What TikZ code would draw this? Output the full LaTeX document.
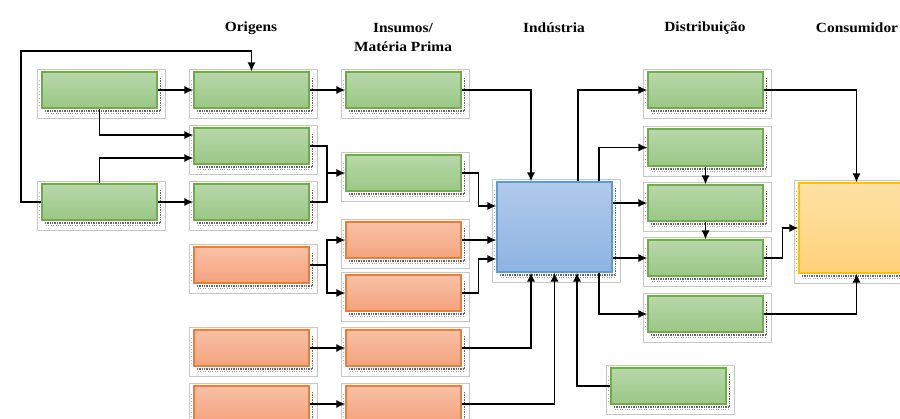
\documentclass[tikz,border=0pt]{standalone}
\usepackage{fontspec}
\setmainfont{Liberation Serif}
\usetikzlibrary{arrows.meta,fit}

% fill and edge colours of the stages
\definecolor{gTop}{RGB}{184,216,170}
\definecolor{gBot}{RGB}{154,199,134}
\definecolor{gEdge}{RGB}{112,173,71}
\definecolor{oTop}{RGB}{248,193,166}
\definecolor{oBot}{RGB}{243,163,126}
\definecolor{oEdge}{RGB}{237,125,49}
\definecolor{bTop}{RGB}{176,202,235}
\definecolor{bBot}{RGB}{142,179,226}
\definecolor{bEdge}{RGB}{91,155,213}
\definecolor{yTop}{RGB}{255,225,165}
\definecolor{yBot}{RGB}{255,210,122}
\definecolor{yEdge}{RGB}{255,192,0}

\tikzset{
  frame/.style={draw=black!22, line width=0.9pt},
  grn/.style={draw=gEdge, line width=1.1pt, top color=gTop, bottom color=gBot},
  org/.style={draw=oEdge, line width=1.1pt, top color=oTop, bottom color=oBot},
  blu/.style={draw=bEdge, line width=1.1pt, top color=bTop, bottom color=bBot},
  ylw/.style={draw=yEdge, line width=1.1pt, top color=yTop, bottom color=yBot},
  speck/.style={draw=black!60, line width=1.6pt, dash pattern=on 0.7pt off 1pt},
  conn/.style={line width=1.5pt, draw=black},
  arr/.style={conn, -{Latex[length=9pt,width=8pt]}},
  head/.style={font=\bfseries\fontsize{14}{19}\selectfont, xscale=1.1, align=center},
}

% a stage box: name, style, left, top, right, bottom
\newcommand\mkpanel[6]{%
  \draw[frame] (#3-5,#4-3) rectangle (#5+8,#6+10);
  \draw[speck] (#3+3,#6+3) -- (#5+3,#6+3);
  \draw[speck, line width=1pt, draw=black!35, dash pattern=on 0.6pt off 1.8pt] (#3+4,#6+6) -- (#5+2,#6+6);
  \draw[speck, line width=0.9pt] (#5+3,#4+6) -- (#5+3,#6+3);
  \draw[speck, line width=0.7pt, draw=black!30, dash pattern=on 0.6pt off 3pt] (#3-3,#4+8) -- (#3-3,#6);
  \node[#2, fit={(#3,#4) (#5,#6)}, inner sep=0pt] (#1) {};
}

\begin{document}
\begin{tikzpicture}[x=1pt, y=-1pt]
  \useasboundingbox (0,0) rectangle (900,419);
  \clip (0,0) rectangle (900,419);

  % column headings
  \node[head] (hOrig) at (251,28) {Origens};
  \node[head] (hIns)  at (403,37.5) {Insumos/\\Matéria Prima};
  \node[head] (hInd)  at (554,28) {Indústria};
  \node[head] (hDist) at (705,28) {Distribuição};
  \node[head] (hCons) at (857,28) {Consumidor};

  % sources
  \mkpanel{A1}{grn}{42}{72}{157}{108}
  \mkpanel{A2}{grn}{42}{184}{157}{220}

  % origins
  \mkpanel{B1}{grn}{194}{72}{309}{108}
  \mkpanel{B2}{grn}{194}{128}{309}{164}
  \mkpanel{B3}{grn}{194}{184}{309}{220}
  \mkpanel{B4}{org}{194}{247}{309}{283}
  \mkpanel{B5}{org}{194}{330}{309}{366}
  \mkpanel{B6}{org}{194}{386}{309}{422}

  % inputs / raw material
  \mkpanel{C1}{grn}{346}{72}{461}{108}
  \mkpanel{C2}{grn}{346}{155}{461}{191}
  \mkpanel{C3}{org}{346}{222}{461}{258}
  \mkpanel{C4}{org}{346}{275}{461}{311}
  \mkpanel{C5}{org}{346}{330}{461}{366}
  \mkpanel{C6}{org}{346}{386}{461}{422}

  % industry
  \mkpanel{D}{blu}{497}{182}{612}{272}
  \mkpanel{F}{grn}{611}{368}{726}{404}

  % distribution
  \mkpanel{E1}{grn}{648}{72}{763}{108}
  \mkpanel{E2}{grn}{648}{129}{763}{166}
  \mkpanel{E3}{grn}{648}{185}{763}{221}
  \mkpanel{E4}{grn}{648}{240}{763}{276}
  \mkpanel{E5}{grn}{648}{296}{763}{332}

  % consumer
  \mkpanel{G}{ylw}{799}{183}{914}{273}

  % junction points
  \coordinate (j1) at (327,173);
  \coordinate (j2) at (327,265);

  % sources -> origins
  \draw[arr] (A2.west) -| (21,51) -| (B1.north);
  \draw[arr] (A1.east) -- (B1.west);
  \draw[arr] (A1.south) |- ([yshift=11pt]B2.west);
  \draw[arr] (A2.north) |- ([yshift=-12pt]B2.west);
  \draw[arr] (A2.east) -- (B3.west);

  % origins -> inputs
  \draw[arr] (B1.east) -- (C1.west);
  \draw[conn] (B2.east) -| (j1) |- (B3.east);
  \draw[arr] (j1) -- (C2.west);
  \draw[conn] (B4.east) -- (j2);
  \draw[arr] (j2) |- (C3.west);
  \draw[arr] (j2) |- (C4.west);
  \draw[arr] (B5.east) -- (C5.west);
  \draw[arr] (B6.east) -- (C6.west);

  % inputs -> industry
  \draw[arr] (C1.east) -| ([xshift=-23.5pt]D.north);
  \draw[arr] (C2.east) -- ++(17,0) |- ([yshift=21pt]D.west);
  \draw[arr] (C3.east) -- (C3.east -| D.west);
  \draw[arr] (C4.east) -- ++(17,0) |- ([yshift=-32pt]D.west);
  \draw[arr] (C5.east) -| ([xshift=-23.5pt]D.south);
  \draw[arr] (C6.east) -| (D.south);
  \draw[arr] (F.west) -| ([xshift=22.5pt]D.south);

  % industry -> distribution
  \draw[arr] ([xshift=23.5pt]D.north) |- (E1.west);
  \draw[arr] ([xshift=44.5pt]D.north) |- (E2.west);
  \draw[arr] (D.east |- E3.west) -- (E3.west);
  \draw[arr] (D.east |- E4.west) -- (E4.west);
  \draw[arr] ([xshift=44.5pt]D.south) |- (E5.west);
  \draw[arr] (E2.south) -- (E3.north);
  \draw[arr] (E3.south) -- (E4.north);

  % distribution -> consumer
  \draw[arr] (E1.east) -| (G.north);
  \draw[arr] (E4.east) -- ++(19,0) |- (G.west);
  \draw[arr] (E5.east) -| (G.south);
\end{tikzpicture}
\end{document}
